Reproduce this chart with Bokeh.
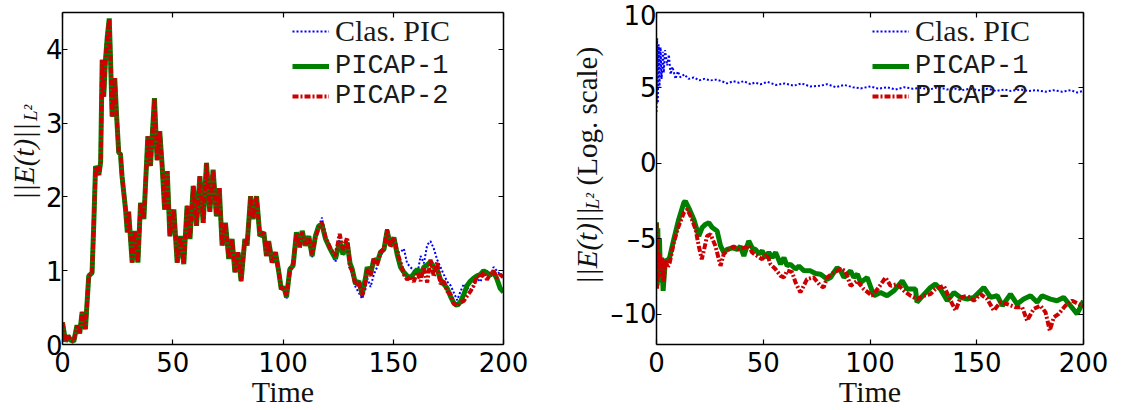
import math
from bokeh.plotting import figure
from bokeh.models import Range1d, LinearAxis, FixedTicker, Legend, LegendItem, Label
from bokeh.layouts import row
from bokeh.embed import file_html
from bokeh.resources import INLINE

# ---------------- data: left panel (linear scale) ----------------
x_ticks = [0, 50, 100, 150, 200]
y_ticks_left = [0, 1, 2, 3, 4]
y_ticks_right = [-10, -5, 0, 5, 10]
series_names = ["Clas. PIC", "PICAP-1", "PICAP-2"]

t_early = [0, 1.4, 2.5, 3.6, 5.1, 6.6, 7.8, 8.9, 10.4, 11.9,
           13.4, 14.2, 15.0, 16.5, 17.3, 18.0, 18.7, 19.5, 20.3, 21.2,
           21.8, 22.5, 23.7, 24.5, 25.5, 26.3, 27.0, 28.6, 29.4, 30.0,
           31.6, 32.7, 34.2, 35.4, 36.9, 38.7, 39.9, 41.7, 42.9, 44.1,
           45.2, 46.3, 47.5, 48.7, 50.5, 52.0, 53.5, 55.0, 56.5, 57.8,
           59.3, 60.8, 62.3, 63.8, 65.3, 66.8, 68.3, 69.8, 71.1, 72.4,
           73.9, 75.4, 76.9, 78.2, 79.6, 81.0, 82.7, 83.7, 85.3, 86.4,
           88.0, 89.5, 91.3, 92.5, 93.5, 95.1, 96.6, 98.1, 99.2, 100.4]
e_early = [0.30, 0.04, 0.12, 0.06, 0.04, 0.26, 0.15, 0.44, 0.21, 0.93,
           0.97, 1.65, 2.42, 2.30, 2.47, 3.86, 3.36, 3.86, 4.17, 4.42,
           3.86, 3.09, 3.61, 3.12, 2.60, 2.58, 2.28, 1.83, 1.52, 1.80,
           1.11, 1.54, 1.11, 1.92, 1.70, 2.82, 2.42, 3.34, 2.50, 2.89,
           2.42, 1.83, 2.35, 1.47, 1.83, 1.11, 1.47, 1.09, 1.88, 1.43,
           2.15, 1.61, 2.28, 1.65, 2.46, 1.80, 2.37, 1.74, 2.12, 1.34,
           1.65, 1.16, 1.43, 0.98, 1.25, 0.86, 1.43, 1.34, 2.01, 1.70,
           2.01, 1.47, 1.52, 1.20, 1.40, 1.11, 1.25, 0.98, 0.75, 0.78]

t_late = [101.6, 103.1, 104.6, 106.1, 107.6, 108.7, 110.2, 111.7, 113.2, 114.7,
          116.2, 117.7, 119.3, 121.5, 123.8, 125.7, 127.2, 129.1, 130.4, 131.4,
          132.9, 134.4, 135.9, 137.4, 138.2, 139.7, 141.2, 142.7, 144.2, 145.8,
          147.2, 148.7, 150.3, 151.8, 153.3, 154.8, 156.3, 157.8, 159.3, 160.9,
          162.4, 163.9, 165.4, 166.9, 168.4, 169.9, 171.4, 172.9, 174.5, 176.0,
          177.5, 179.0, 180.5, 182.0, 183.5, 185.0, 186.5, 188.0, 189.5, 191.0,
          192.5, 194.0, 195.5, 197.0, 198.5, 200.0]
clas_late = [0.62, 0.98, 1.05, 1.50, 1.33, 1.52, 1.35, 1.46, 1.18, 1.48,
             1.60, 1.72, 1.42, 1.28, 1.12, 1.45, 1.20, 1.40, 1.05, 0.92,
             0.78, 0.70, 0.62, 0.75, 0.90, 0.78, 0.95, 1.05, 1.20, 1.28,
             1.52, 1.35, 1.45, 1.25, 1.25, 1.30, 1.10, 1.05, 1.00, 0.95,
             1.20, 1.10, 1.35, 1.40, 1.30, 1.15, 1.05, 0.95, 0.85, 0.80,
             0.70, 0.60, 0.72, 0.82, 0.78, 0.70, 0.80, 0.90, 0.85, 0.95,
             1.00, 0.92, 1.05, 1.00, 0.95, 0.90]
picap1_late = [0.64, 1.02, 1.07, 1.52, 1.34, 1.54, 1.34, 1.47, 1.20, 1.47,
               1.61, 1.62, 1.43, 1.29, 1.16, 1.40, 1.22, 1.38, 1.10, 1.02,
               0.82, 0.86, 0.68, 0.90, 1.05, 0.95, 1.16, 1.11, 1.25, 1.29,
               1.54, 1.34, 1.45, 1.22, 1.05, 0.98, 0.93, 0.90, 0.96, 1.02,
               0.95, 1.05, 1.08, 1.12, 1.05, 1.02, 0.88, 0.82, 0.76, 0.65,
               0.56, 0.53, 0.58, 0.68, 0.80, 0.86, 0.90, 0.93, 0.95, 1.00,
               0.97, 0.94, 0.98, 0.89, 0.76, 0.71]
picap2_late = [0.66, 1.00, 1.10, 1.50, 1.30, 1.52, 1.36, 1.45, 1.22, 1.45,
               1.58, 1.65, 1.45, 1.30, 1.20, 1.50, 1.28, 1.45, 1.05, 1.00,
               0.80, 0.84, 0.66, 0.84, 1.02, 0.93, 1.16, 1.08, 1.25, 1.30,
               1.56, 1.32, 1.45, 1.25, 1.11, 0.95, 0.88, 0.92, 0.85, 0.98,
               0.86, 1.05, 0.84, 1.15, 0.92, 1.12, 0.82, 0.86, 0.72, 0.68,
               0.55, 0.52, 0.57, 0.59, 0.66, 0.72, 0.80, 0.93, 0.91, 0.98,
               0.88, 0.95, 1.00, 0.90, 0.95, 0.91]

# ---------------- data: right panel (log scale) ----------------
log_clas = [(0, 3.4), (0.3, 8.3), (0.6, 4.0), (1.0, 7.9), (1.4, 5.0), (1.9, 7.7),
            (2.4, 5.6), (3.0, 7.4), (3.4, 6.0), (4.0, 7.5), (5.0, 6.5), (5.8, 7.2),
            (6.6, 5.9), (7.5, 6.4), (8.9, 5.6), (10.0, 6.1), (11.2, 5.7), (13, 5.9),
            (15, 5.6), (17.5, 5.7), (20, 5.5), (22.5, 5.6), (25.3, 5.5), (28, 5.55),
            (30.5, 5.45), (33.1, 5.3), (36, 5.45), (38.5, 5.35), (40.9, 5.45), (44, 5.25),
            (46, 5.35), (48.7, 5.25), (52, 5.4), (56, 5.2), (60, 5.3), (64.3, 5.15),
            (68, 5.3), (72, 5.1), (76.8, 5.15), (79.9, 5.25), (84, 5.05), (88, 5.2),
            (92, 5.05), (95.6, 4.97), (100.2, 5.1), (104, 4.95), (108, 5.05), (112, 4.9),
            (116, 5.05), (120, 4.95), (123.7, 5.0), (128, 4.9), (132, 5.05), (136, 4.9),
            (140, 4.95), (143, 4.85), (147, 4.95), (151, 4.85), (155, 4.95), (159, 4.8),
            (163, 4.9), (166, 4.8), (170.5, 4.9), (174, 4.8), (178, 4.85), (182, 4.75),
            (186, 4.85), (190, 4.75), (194, 4.85), (197, 4.7), (200, 4.8)]
log_picap1 = [(0, -3.9), (0.3, -8.1), (0.6, -4.3), (1.0, -7.6), (1.4, -5.0), (1.9, -7.9),
              (2.5, -6.4), (3.1, -8.44), (4.2, -6.35), (5.2, -6.5), (6.2, -6.2), (8.1, -5.03),
              (10.4, -3.71), (12.8, -2.61), (13.5, -2.5), (15.1, -2.94), (17.5, -3.71),
              (19.8, -4.81), (21.4, -4.25), (22.9, -4.04), (24.5, -3.93), (26.1, -4.25),
              (28.4, -4.48), (30.0, -5.47), (31.5, -5.9), (33.1, -5.7), (35.5, -5.6),
              (37.8, -5.7), (39.3, -5.5), (40.9, -6.13), (43.2, -5.14), (44.8, -5.6),
              (46.4, -5.7), (47.9, -6.0), (49.5, -5.8), (51.1, -6.24), (52.6, -5.9),
              (54.2, -6.24), (55.8, -5.9), (58.1, -6.68), (59.7, -6.24), (61.2, -6.79),
              (62.7, -6.68), (65.1, -7.0), (66.7, -6.8), (69, -7.1), (72.1, -7.12),
              (74.5, -7.3), (76.8, -7.34), (78.3, -7.5), (79.9, -7.67), (81.5, -7.56),
              (84.6, -6.9), (86.2, -7.1), (87.8, -7.56), (90.9, -7.12), (92.4, -7.56),
              (94.1, -7.34), (95.6, -7.89), (98.7, -7.56), (101.8, -8.77), (104.9, -8.55),
              (108, -8.77), (111.2, -8.44), (115.1, -7.78), (117.4, -8.33), (121.3, -8.33),
              (122, -9.2), (125.4, -8.66), (128.3, -8.22), (130.6, -8.0), (133, -8.33),
              (136.2, -9.1), (139.3, -8.55), (142.4, -8.88), (145.6, -8.99), (148.6, -8.88),
              (153.3, -8.22), (156.5, -8.88), (159.6, -8.77), (162, -9.43), (165.8, -8.66),
              (168.9, -9.32), (172, -8.99), (175.2, -8.77), (178.3, -9.2), (180.6, -8.77),
              (184.5, -8.99), (187.6, -9.1), (190.7, -8.88), (193.9, -9.43), (197, -9.97),
              (200, -9.1)]
log_picap2 = [(0, -4.0), (0.3, -8.3), (0.6, -5.0), (1.0, -7.0), (1.5, -6.0), (2.0, -7.5),
              (2.6, -6.2), (3.4, -7.88), (4.2, -6.35), (5.2, -6.9), (6.2, -6.57), (8.1, -5.25),
              (10.4, -4.15), (12.8, -3.27), (14.4, -3.05), (16, -3.5), (18.3, -4.37),
              (19.8, -5.47), (21.2, -6.35), (22.3, -5.7), (23.7, -4.81), (25.3, -4.7),
              (27.6, -5.47), (30, -6.79), (31.5, -6.0), (33.8, -5.7), (36.2, -5.5),
              (38.6, -5.7), (40.9, -5.6), (43.2, -5.47), (44.8, -5.9), (47.1, -6.13),
              (49.5, -6.35), (51.8, -6.0), (53.4, -6.68), (55.7, -7.0), (58.1, -7.45),
              (59.7, -7.55), (61.2, -7.1), (63.5, -7.2), (65.1, -7.88), (67.4, -8.55),
              (70.5, -7.67), (73.6, -7.56), (76.8, -8.11), (78.3, -8.22), (79.9, -7.56),
              (83, -7.23), (86.2, -7.0), (88.5, -7.12), (90.9, -8.11), (94, -7.78),
              (97.1, -8.33), (101, -8.77), (104.1, -8.22), (107.3, -7.56), (109.6, -8.11),
              (112.8, -8.0), (115.9, -8.44), (119, -8.77), (122.1, -8.99), (125.2, -8.77),
              (128.3, -8.66), (130.6, -8.33), (134.6, -8.11), (137, -8.88), (140.1, -9.75),
              (142.4, -8.88), (145.6, -8.77), (148.6, -9.1), (151.8, -8.66), (154.9, -8.99),
              (158, -9.75), (161.1, -9.2), (164.2, -9.32), (168.1, -9.53), (171.3, -9.53),
              (173.6, -10.42), (176.7, -9.64), (179.8, -9.43), (182.2, -9.86), (184.2, -11.07),
              (186.1, -10.2), (188.4, -9.97), (191.5, -9.43), (194.7, -9.1), (197.8, -9.32),
              (200, -9.43)]

BLUE = "#0000ff"
GREEN = "#008000"
RED = "#cc0000"
TICK_FONT = "DejaVu Sans"
SERIF = "Liberation Serif"
MONO = "Liberation Mono"


def make_fig(width, y_range, yticks, left_border, right_border, overrides):
    p = figure(width=width, height=410, output_backend="svg", toolbar_location=None,
               x_range=Range1d(0, 200), y_range=y_range,
               min_border_left=left_border, min_border_right=right_border,
               min_border_top=12, min_border_bottom=64,
               x_axis_location=None, y_axis_location=None)
    p.grid.visible = False
    p.outline_line_color = None
    p.background_fill_color = "white"
    p.border_fill_color = "white"
    for side in ["below", "left", "above", "right"]:
        ax = LinearAxis()
        ax.ticker = FixedTicker(ticks=x_ticks if side in ("below", "above") else yticks)
        ax.major_tick_in = 5
        ax.major_tick_out = 0
        ax.minor_tick_in = 0
        ax.minor_tick_out = 0
        ax.axis_line_color = "black"
        ax.axis_line_width = 1.5
        ax.major_tick_line_color = "black"
        ax.major_tick_line_width = 1.2
        ax.major_label_text_font = TICK_FONT
        ax.major_label_text_font_size = "26px"
        ax.major_label_text_color = "black"
        if side in ("above", "right"):
            ticks = x_ticks if side == "above" else yticks
            ax.major_label_overrides = {t: "" for t in ticks}
            ax.major_label_text_font_size = "1px"
            ax.major_label_standoff = 0
        elif side == "below":
            ax.major_label_standoff = 7
            ax.axis_label = "Time"
            ax.axis_label_standoff = 0
            ax.axis_label_text_font = SERIF
            ax.axis_label_text_font_style = "normal"
            ax.axis_label_text_font_size = "30px"
            ax.axis_label_text_color = "#111111"
        else:
            ax.major_label_standoff = 0
            ax.major_label_overrides = overrides
        p.add_layout(ax, side)
    return p


def label_strip(width):
    # a bare strip (no axes) whose frame is the whole canvas: data units = pixels
    s = figure(width=width, height=410, output_backend="svg", toolbar_location=None,
               x_range=Range1d(0, width), y_range=Range1d(410, 0),
               min_border=0, x_axis_location=None, y_axis_location=None)
    s.grid.visible = False
    s.outline_line_color = None
    s.background_fill_color = "white"
    s.border_fill_color = "white"
    return s


def add_text(p, x, y, text, size, style="normal"):
    p.add_layout(Label(x=x, y=y, text=text, angle=math.pi / 2,
                       text_align="center", text_baseline="middle",
                       text_font=SERIF, text_font_style=style, text_font_size=size,
                       text_color="#111111"))


def add_legends(p, r_clas, r_p1, r_p2, x0):
    common = dict(background_fill_alpha=0, border_line_alpha=0, padding=0, margin=0,
                  glyph_width=37, glyph_height=20, label_standoff=6, spacing=0,
                  label_height=20, label_text_color="#1a1a1a")
    leg_a = Legend(items=[LegendItem(label=series_names[0], renderers=[r_clas])],
                   location=(x0, 296), label_text_font=SERIF, label_text_font_size="30px",
                   **common)
    leg_b = Legend(items=[LegendItem(label=series_names[1], renderers=[r_p1]),
                          LegendItem(label=series_names[2], renderers=[r_p2])],
                   location=(x0, 233), label_text_font=MONO, label_text_font_size="27px",
                   **common)
    p.add_layout(leg_a)
    p.add_layout(leg_b)


# ---------------- left y-label strip ----------------
W1 = 41
s1 = label_strip(W1)
add_text(s1, 23, 184, "||E(t)||", "29px", style="italic")
add_text(s1, 30, 124, "L²", "19px", style="italic")

# ---------------- left figure ----------------
p1 = make_fig(561 - W1, Range1d(0, 4.5), y_ticks_left, 62 - W1, 58, {})
t_left = t_early + t_late
rb1 = p1.line(t_left, e_early + clas_late, line_color=BLUE, line_width=2, line_dash="2 2")
rg1 = p1.line(t_left, e_early + picap1_late, line_color=GREEN, line_width=5)
rr1 = p1.line(t_left, e_early + picap2_late, line_color=RED, line_width=4, line_dash="6 2 2 2")
add_legends(p1, rb1, rg1, rr1, 230)

# ---------------- right y-label strip ----------------
W2 = 44
s2 = label_strip(W2)
add_text(s2, 25, 288, "||E(t)||", "29px", style="italic")
add_text(s2, 31, 233, "L²", "19px", style="italic")
add_text(s2, 25, 128, "(Log. scale)", "29px")

# ---------------- right figure ----------------
minus = {-10: "\u201310", -5: "\u20135"}
p2 = make_fig(561 - W2, Range1d(-12, 10), y_ticks_right, 95 - W2, 39, minus)
tc, vc = zip(*log_clas)
t1, v1 = zip(*log_picap1)
t2, v2 = zip(*log_picap2)
rb2 = p2.line(list(tc), list(vc), line_color=BLUE, line_width=2, line_dash="2 2")
rg2 = p2.line(list(t1), list(v1), line_color=GREEN, line_width=5)
rr2 = p2.line(list(t2), list(v2), line_color=RED, line_width=4, line_dash="6 2 2 2")
add_legends(p2, rb2, rg2, rr2, 216)

layout = row(s1, p1, s2, p2)
open("out.html", "w").write(file_html(layout, INLINE))
